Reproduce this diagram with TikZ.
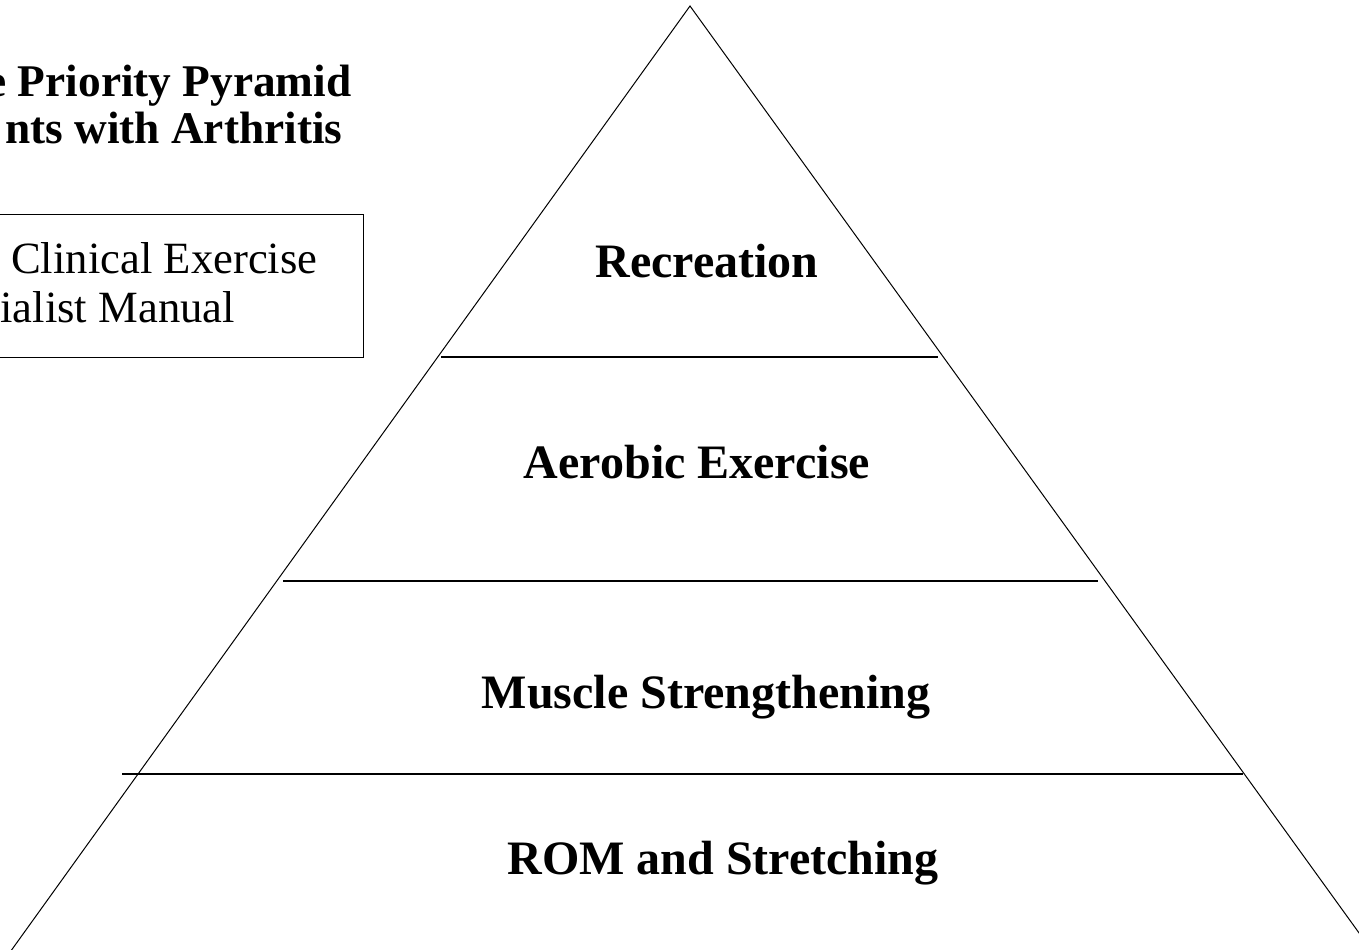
\documentclass[tikz,border=0pt]{standalone}
\usepackage{fontspec}
\setmainfont{Liberation Serif}
\tikzset{every picture/.style={line width=0.75pt}}
\begin{document}
\begin{tikzpicture}[x=0.75pt,y=0.75pt,yscale=-1,xscale=1,
  level/.style={font=\fontsize{36}{42}\selectfont\bfseries, anchor=base, inner sep=0pt},
  heading/.style={font=\fontsize{34}{40}\selectfont\bfseries, anchor=base east, inner sep=0pt},
  source/.style={font=\fontsize{33.5}{40}\selectfont, inner sep=0pt},
  divider/.style={line width=1.1pt}]
		\useasboundingbox (0,0) rectangle (1359,949);
		\clip (0,0) rectangle (1359,949);
		
		%Shape: Triangle
		\coordinate (apex) at (690,6);
		\coordinate (baseL) at (-10,980);
		\coordinate (baseR) at (1393,980);
		\draw (baseL) -- (apex) -- (baseR);
		
		%Dividers between levels
		\coordinate (d1L) at (441,357);  \coordinate (d1R) at (938,357);
		\coordinate (d2L) at (283,581);  \coordinate (d2R) at (1098,581);
		\coordinate (d3L) at (122,774);  \coordinate (d3R) at (1243,774);
		\draw [divider] (d1L) -- (d1R);
		\draw [divider] (d2L) -- (d2R);
		\draw [divider] (d3L) -- (d3R);
		
		%Shape: Rectangle (source box)
		\draw (-20,214) rectangle (363,357);
		
		\node [level] (recreation) at (707,277) {Recreation};
		\node [level] (aerobic) at (697,478) {Aerobic Exercise};
		\node [level] (muscle) at (706,708) {Muscle Strengthening};
		\node [level] (rom) at (723,874) {ROM and Stretching};
		
		\node [heading] (title1) at (352,97) {e Priority Pyramid};
		\node [heading] (title2) at (343,143) {nts with Arthritis};
		
		\node [source, anchor=base east] (src1) at (318,273) {Clinical Exercise};
		\node [source, anchor=base west] (src2) at (0,322) {ialist Manual};
		
	\end{tikzpicture}
\end{document}
